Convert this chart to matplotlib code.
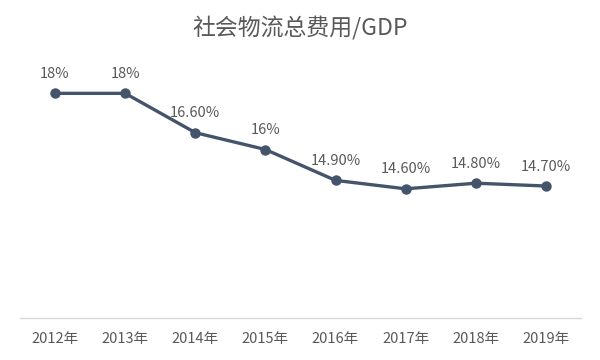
import matplotlib
matplotlib.use("Agg")
import matplotlib.pyplot as plt

plt.rcParams['font.family'] = ['Noto Sans CJK SC', 'DejaVu Sans']

years = ["2012年", "2013年", "2014年", "2015年", "2016年", "2017年", "2018年", "2019年"]
values = [18, 18, 16.6, 16, 14.9, 14.6, 14.8, 14.7]
labels = ["18%", "18%", "16.60%", "16%", "14.90%", "14.60%", "14.80%", "14.70%"]

fig = plt.figure(figsize=(6, 3.6), dpi=100)
ax = fig.add_axes([0.0333, 0.1167, 0.935, 0.78])
x = list(range(len(years)))
ax.plot(x, values, color='#44546A', lw=2.4, marker='o', ms=6.5, zorder=3)
for xi, v, lab in zip(x, values, labels):
    ax.annotate(lab, (xi, v), xytext=(0, 9), textcoords='offset points',
                ha='center', va='bottom', fontsize=10.5, color='#595959')
ax.set_xlim(-0.5, len(years) - 0.5)
ax.set_ylim(10, 20)
ax.set_xticks(x)
ax.set_xticklabels(years, fontsize=10.5, color='#595959')
ax.tick_params(axis='x', length=0, pad=10)
ax.set_yticks([])
for s in ['top', 'right', 'left']:
    ax.spines[s].set_visible(False)
ax.spines['bottom'].set_color('#D9D9D9')
ax.spines['bottom'].set_linewidth(1)
fig.text(0.5, 0.92, "社会物流总费用/GDP", ha='center', va='center', fontsize=16.5, color='#595959')
fig.savefig("out.png", dpi=100, facecolor='white')
